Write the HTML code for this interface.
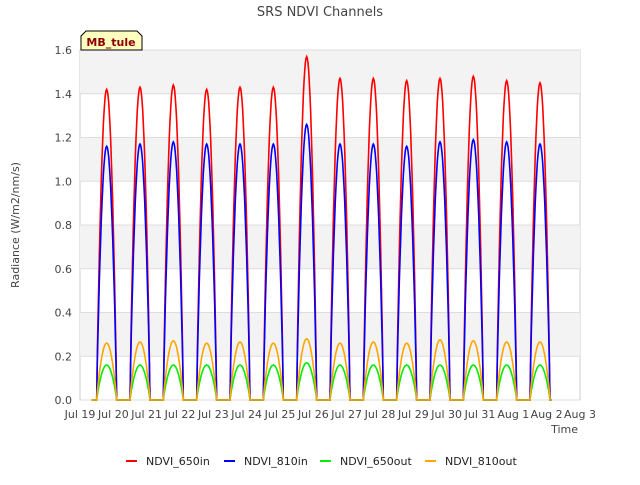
<!DOCTYPE html>
<html><head><meta charset="utf-8"><style>
body{margin:0;background:#fff;font-family:"Liberation Sans","DejaVu Sans",sans-serif}
svg text{font-family:"DejaVu Sans","Liberation Sans",sans-serif}
</style></head><body>
<svg id="c" width="640" height="480" xmlns="http://www.w3.org/2000/svg">
<rect width="640" height="480" fill="#fff"/>
<text x="320" y="16" text-anchor="middle" font-size="13" fill="#444">SRS NDVI Channels</text>
<g id="bands"></g><g id="grid"></g><g id="series"></g><g id="axes"></g>
<text transform="translate(19,225) rotate(-90)" text-anchor="middle" font-size="11" fill="#444">Radiance (W/m2/nm/s)</text>
<text x="578" y="433" text-anchor="end" font-size="11" fill="#444">Time</text>
<g>
<path d="M81,50 L81,36 L86,31 L137,31 L142,36 L142,50 Z" fill="#ffffc0" stroke="#000" stroke-width="1"/>
<text x="111" y="46" text-anchor="middle" font-size="11" font-weight="bold" fill="#8b0000">MB_tule</text>
</g>
<g id="legend"></g>
</svg>
<script>
const dayLabels=["Jul 19","Jul 20","Jul 21","Jul 22","Jul 23","Jul 24","Jul 25","Jul 26","Jul 27","Jul 28","Jul 29","Jul 30","Jul 31","Aug 1","Aug 2","Aug 3"];
const yTicks=[0,0.2,0.4,0.6,0.8,1.0,1.2,1.4,1.6];
const peak650in=[1.42,1.43,1.44,1.42,1.43,1.43,1.57,1.47,1.47,1.46,1.47,1.48,1.46,1.45];
const peak810in=[1.16,1.17,1.18,1.17,1.17,1.17,1.26,1.17,1.17,1.16,1.18,1.19,1.18,1.17];
const peak650out=[0.16,0.16,0.16,0.16,0.16,0.16,0.17,0.16,0.16,0.16,0.16,0.16,0.16,0.16];
const peak810out=[0.26,0.265,0.27,0.26,0.265,0.26,0.28,0.26,0.265,0.26,0.275,0.27,0.265,0.265];
const X0=80,X1=580,Y0=400,Y1=50;
const xs=d=>X0+(X1-X0)*d/15, ys=v=>Y0-(Y0-Y1)*v/1.6;
const NS="http://www.w3.org/2000/svg";
function mk(t,a,p){const e=document.createElementNS(NS,t);for(const k in a)e.setAttribute(k,a[k]);p.appendChild(e);return e;}
const bands=document.getElementById('bands'),grid=document.getElementById('grid'),axes=document.getElementById('axes'),ser=document.getElementById('series'),leg=document.getElementById('legend');
mk('rect',{x:X0,y:Y1,width:X1-X0,height:Y0-Y1,fill:'#fff',stroke:'#ccc'},bands);
for(let i=0;i<yTicks.length-1;i+=2){const r=mk('rect',{x:X0,y:ys(yTicks[i+2]||1.6),width:X1-X0,height:ys(yTicks[i+1])-ys(yTicks[i+2]||1.6),fill:'#f3f3f3'},bands);

}
yTicks.forEach(v=>{const l=mk('line',{x1:X0,x2:X1,y1:ys(v),y2:ys(v),stroke:'#ddd'},grid);


const t=mk('text',{x:X0-8,y:ys(v)+4,'text-anchor':'end','font-size':'11',fill:'#444'},axes);t.textContent=v.toFixed(1);

});
dayLabels.forEach((s,i)=>{const t=mk('text',{x:xs(i),y:418,'text-anchor':'middle','font-size':'11',fill:'#444'},axes);t.textContent=s;

});
function draw(peaks,color,name){let pts=[[xs(0.35),ys(0)]];
peaks.forEach((p,d)=>{pts.push([xs(d+0.5),ys(0)]);for(let k=0;k<=30;k++){const t=k/30;pts.push([xs(d+0.5+0.6*t),ys(p*Math.pow(Math.sin(Math.PI*t),0.85))]);}
if(d<peaks.length-1)pts.push([xs(d+1.5),ys(0)]);});
pts.push([xs(peaks.length-1+1.15),ys(0)]);
const pl=mk('polyline',{points:pts.map(q=>q.map(n=>n.toFixed(1)).join(',')).join(' '),fill:'none',stroke:color,'stroke-width':1.6},ser);

}
draw(peak650in,'#ff0000','series-ndvi-650in');
draw(peak810in,'#0000ff','series-ndvi-810in');
draw(peak650out,'#00ee00','series-ndvi-650out');
draw(peak810out,'#ffa500','series-ndvi-810out');
[["NDVI_650in","#ff0000",126],["NDVI_810in","#0000ff",224],["NDVI_650out","#00ee00",320],["NDVI_810out","#ffa500",425]].forEach(([n,c,x])=>{
const g=mk('g',{},leg);


mk('line',{x1:x,x2:x+11,y1:461,y2:461,stroke:c,'stroke-width':2},g);
const t=mk('text',{x:x+20,y:465,'font-size':'11',fill:'#222'},g);t.textContent=n;});
</script>
</body></html>
